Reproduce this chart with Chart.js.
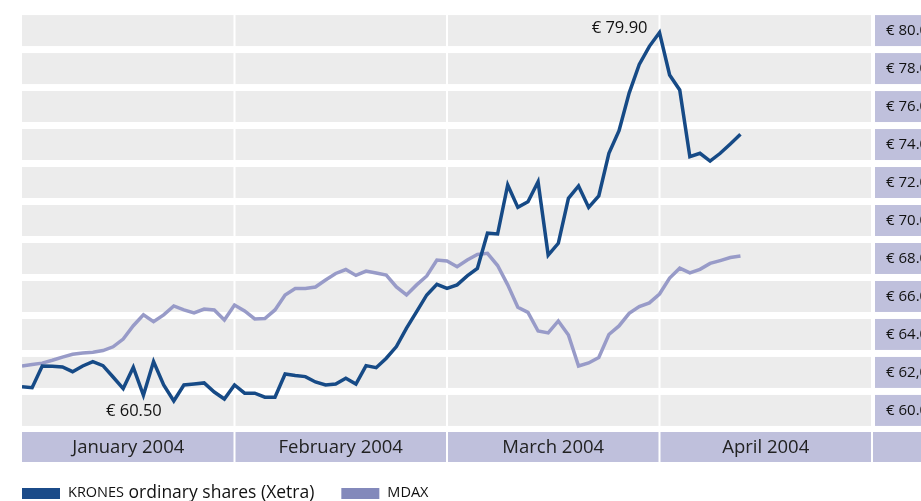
<!DOCTYPE html>
<html>
<head>
<meta charset="utf-8">
<script src="https://cdn.jsdelivr.net/npm/chart.js@4/dist/chart.umd.min.js"></script>
<style>
  html, body { margin: 0; background: #fff; }
  #wrap { width: 921px; height: 501px; }
</style>
</head>
<body>
<div id="wrap"><canvas id="shareChart"></canvas></div>
<script>
// ======================
// Datos
// ======================
const months = ["January 2004", "February 2004", "March 2004", "April 2004"];
const daysPerMonth = 21; // ancho de cada columna, en días de cotización

const priceTicks = [80, 78, 76, 74, 72, 70, 68, 66, 64, 62, 60];
const priceTickLabels = ["€ 80.00", "€ 78.00", "€ 76.00", "€ 74.00", "€ 72.00", "€ 70.00",
                         "€ 68.00", "€ 66.00", "€ 64.00", "€ 62,00", "€ 60.00"];

const seriesNames = ["KRONES ordinary shares (Xetra)", "MDAX"];

// cierre diario KRONES (Xetra), €
const krones = [
  61.25, 61.20, 62.34, 62.32, 62.29, 62.04, 62.34, 62.57, 62.36, 61.76,
  61.15, 62.27, 60.80, 62.57, 61.34, 60.50, 61.34, 61.39, 61.45, 60.97,
  60.60, 61.34, 60.91, 60.91, 60.70, 60.70, 61.92, 61.84, 61.78, 61.50,
  61.34, 61.39, 61.69, 61.39, 62.36, 62.25, 62.75, 63.36, 64.33, 65.20,
  66.08, 66.64, 66.43, 66.61, 67.08, 67.48, 69.33, 69.29, 71.87, 70.69,
  70.99, 72.04, 68.18, 68.80, 71.17, 71.82, 70.69, 71.29, 73.54, 74.73,
  76.71, 78.22, 79.17, 79.90, 77.66, 76.87, 73.36, 73.54, 73.13, 73.54,
  74.03, 74.54
];

// MDAX, reescalado al eje de la acción
const mdax = [
  62.34, 62.42, 62.49, 62.64, 62.81, 62.96, 63.02, 63.06, 63.15, 63.35,
  63.76, 64.46, 65.03, 64.67, 65.03, 65.50, 65.29, 65.13, 65.34, 65.29,
  64.76, 65.55, 65.24, 64.82, 64.84, 65.29, 66.08, 66.42, 66.42, 66.50,
  66.87, 67.21, 67.42, 67.11, 67.34, 67.24, 67.13, 66.50, 66.08, 66.61,
  67.08, 67.92, 67.87, 67.57, 67.92, 68.21, 68.27, 67.63, 66.61, 65.43,
  65.16, 64.18, 64.08, 64.71, 63.97, 62.34, 62.50, 62.79, 64.00, 64.45,
  65.11, 65.47, 65.66, 66.13, 66.97, 67.49, 67.24, 67.43, 67.74, 67.89,
  68.05, 68.13
];

// ======================
// Colores
// ======================
const GRAY = "#ececec";
const LILAC = "#bfc0dc";
const KRONES_LINE = "#164a86";
const MDAX_LINE = "#989bc8";
const legendColors = ["#1b4b89", "#8389bb"];
const FONT = "'Open Sans', sans-serif";

// ========== Fondo: bandas grises, casillas lila y barra de meses ==========
const backdrop = {
  id: "backdrop",
  beforeDraw(chart) {
    const { ctx, chartArea: a, scales } = chart;
    const y = scales.y, xd = scales.xd;
    const W = chart.width;
    const step = Math.abs(y.getPixelForValue(priceTicks[0]) - y.getPixelForValue(priceTicks[1]));
    const half = step * 31 / 38 / 2;

    ctx.save();
    priceTicks.forEach(v => {
      const cy = y.getPixelForValue(v);
      ctx.fillStyle = GRAY;
      ctx.fillRect(a.left, cy - half, a.right - a.left, half * 2);
      ctx.fillStyle = LILAC;
      ctx.fillRect(a.right + 3, cy - half, W - a.right - 3, half * 2);
    });

    const barTop = a.bottom + 6, barH = 30;
    ctx.fillStyle = LILAC;
    ctx.fillRect(a.left, barTop, W - a.left, barH);

    ctx.fillStyle = "#fff";
    for (let m = 1; m <= months.length; m++) {
      const x = xd.getPixelForValue(m * daysPerMonth);
      ctx.fillRect(x - 1, a.top, 2, barTop + barH - a.top);
    }
    ctx.restore();
  }
};

// ========== Etiquetas de máximo / mínimo ==========
const extremes = {
  id: "extremes",
  afterDatasetsDraw(chart) {
    const { ctx, scales } = chart;
    const hi = Math.max(...krones), lo = Math.min(...krones);
    const iHi = krones.indexOf(hi), iLo = krones.indexOf(lo);

    ctx.save();
    ctx.font = "16.5px " + FONT;
    ctx.fillStyle = "#111";
    ctx.textAlign = "right";
    ctx.textBaseline = "middle";
    ctx.fillText("€ " + hi.toFixed(2),
      scales.xd.getPixelForValue(iHi) - 12, scales.y.getPixelForValue(hi) - 4);
    ctx.fillText("€ " + lo.toFixed(2),
      scales.xd.getPixelForValue(iLo) - 12, scales.y.getPixelForValue(lo) + 10);
    ctx.restore();
  }
};

// ========== Leyenda (versalitas para las siglas) ==========
function drawCapsText(ctx, text, x, y) {
  text.split(/(\b[A-Z]{2,}\b)/).forEach(part => {
    if (!part) return;
    const caps = /^[A-Z]{2,}$/.test(part);
    ctx.font = (caps ? "14.5px " : "17.5px ") + FONT;
    ctx.fillText(part, x, y);
    x += ctx.measureText(part).width;
  });
  return x;
}

const bottomLegend = {
  id: "bottomLegend",
  afterDraw(chart) {
    const { ctx, chartArea: a } = chart;
    const ly = 493;
    let x = a.left;
    ctx.save();
    ctx.textBaseline = "middle";
    ctx.textAlign = "left";
    seriesNames.forEach((name, i) => {
      ctx.fillStyle = legendColors[i];
      ctx.fillRect(x, ly - 5, 38, 11);
      ctx.fillStyle = "#111";
      x = drawCapsText(ctx, name, x + 46, ly) + 27;
    });
    ctx.restore();
  }
};

// =============================
// Gráfico
// =============================
new Chart(document.getElementById("shareChart"), {
  type: "line",
  data: {
    labels: months,
    datasets: [
      {
        label: seriesNames[0],
        data: krones.map((v, i) => ({ x: i, y: v })),
        xAxisID: "xd",
        borderColor: KRONES_LINE,
        borderWidth: 3.5,
        pointRadius: 0,
        tension: 0
      },
      {
        label: seriesNames[1],
        data: mdax.map((v, i) => ({ x: i, y: v })),
        xAxisID: "xd",
        borderColor: MDAX_LINE,
        borderWidth: 3.5,
        pointRadius: 0,
        tension: 0
      }
    ]
  },
  options: {
    responsive: true,
    maintainAspectRatio: false,
    animation: false,
    layout: { padding: { left: 22, top: 15, right: 0, bottom: 0 } },
    plugins: {
      legend: { display: false },
      tooltip: { enabled: false }
    },
    scales: {
      x: {
        type: "category",
        offset: true,
        grid: { display: false, drawTicks: false },
        border: { display: false },
        ticks: { color: "#222", font: { family: FONT, size: 18.5 }, padding: 11, maxRotation: 0 },
        afterFit: s => { s.height = 75; }
      },
      xd: {
        type: "linear",
        display: false,
        min: 0,
        max: daysPerMonth * months.length
      },
      y: {
        position: "right",
        min: 59.18,
        max: 80.82,
        grid: { display: false, drawTicks: false },
        border: { display: false },
        afterBuildTicks: s => { s.ticks = priceTicks.map(v => ({ value: v })); },
        ticks: {
          color: "#111",
          font: { family: FONT, size: 15 },
          padding: 14,
          callback: v => priceTickLabels[priceTicks.indexOf(v)]
        },
        afterFit: s => { s.width = 49; s.paddingTop = 0; s.paddingBottom = 0; }
      }
    }
  },
  plugins: [backdrop, extremes, bottomLegend]
});
</script>
</body>
</html>
